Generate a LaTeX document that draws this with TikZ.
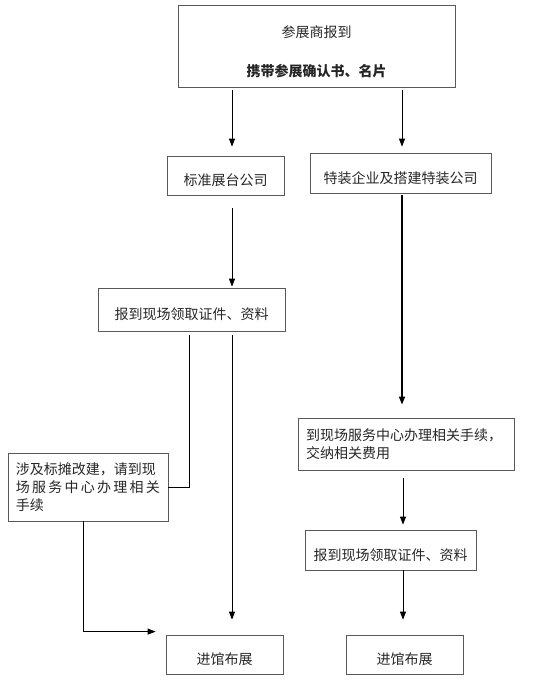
\documentclass[tikz,border=0pt]{standalone}
\usepackage{fontspec}
\setmainfont{Noto Sans CJK SC}
\usepackage{tikz}
\usetikzlibrary{arrows.meta}

\begin{document}
\begin{tikzpicture}[x=1pt, y=-1pt, every node/.style={font=\fontsize{14}{18}\selectfont, text=black!85},
    box/.style={draw=black!65, line width=0.8pt, inner sep=0pt},
    low/.style={text height=20pt, text depth=0pt},
    arr/.style={-{Triangle[length=8pt,width=6pt]}, line width=0.8pt}]
  \useasboundingbox (0,0) rectangle (550,680);
  \node[box, minimum width=277pt, minimum height=82pt, align=center] (top) at (316.5,46) {\rule{0pt}{24pt}参展商报到\\[21pt]\textbf{携带参展确认书、名片}};
  \node[box, low, minimum width=117pt, minimum height=39pt] (std) at (225.5,175.5) {标准展台公司};
  \node[box, low, minimum width=181pt, minimum height=40pt] (spec) at (400.5,173) {特装企业及搭建特装公司};
  \node[box, low, minimum width=187pt, minimum height=43pt] (reg) at (191.5,309.5) {报到现场领取证件、资料};
  \node[box, minimum width=216pt, minimum height=52pt, text width=200pt, align=left] (svc) at (406,444) {到现场服务中心办理相关手续，\\交纳相关费用};
  \node[box, minimum width=160pt, minimum height=68pt, text width=144pt, align=left] (note) at (88,487) {涉及标摊改建，请到现\\\makebox[144pt]{场\hfill 服\hfill 务\hfill 中\hfill 心\hfill 办\hfill 理\hfill 相\hfill 关}\\手续};
  \node[box, low, minimum width=171pt, minimum height=40pt] (reg2) at (390.5,550) {报到现场领取证件、资料};
  \node[box, low, minimum width=117pt, minimum height=39pt] (inL) at (224.5,654.5) {进馆布展};
  \node[box, low, minimum width=117pt, minimum height=39pt] (inR) at (404.5,654.5) {进馆布展};
  % left branch
  \draw[arr, shorten <=3pt, shorten >=9pt] ([xshift=6.5pt]std.north |- top.south) -- ([xshift=6.5pt]std.north);
  \draw[arr, shorten <=13pt, shorten >=1pt] ([xshift=6.5pt]std.south) -- ([xshift=6.5pt]std.south |- reg.north);
  \draw[arr, shorten <=4pt, shorten >=15pt] ([xshift=7.5pt]inL.north |- reg.south) -- ([xshift=7.5pt]inL.north);
  \draw[line width=0.8pt, shorten <=4pt] ([xshift=-2.5pt]reg.south) |- (note.east);
  \draw[arr, shorten >=10pt] ([xshift=-5pt]note.south) |- ([yshift=3pt]inL.north west);
  % right branch
  \draw[arr, shorten <=3pt, shorten >=6pt] ([xshift=1.5pt]spec.north |- top.south) -- ([xshift=1.5pt]spec.north);
  \draw[arr, line width=1.6pt, shorten <=2pt, shorten >=13pt] ([xshift=1.5pt]spec.south) -- ([xshift=1.5pt]spec.south |- svc.north);
  \draw[arr, shorten <=8pt, shorten >=5pt] ([xshift=-3pt]svc.south) -- ([xshift=-3pt]svc.south |- reg2.north);
  \draw[arr, shorten >=15pt] ([xshift=-1.5pt]inR.north |- reg2.south) -- ([xshift=-1.5pt]inR.north);
\end{tikzpicture}
\end{document}
